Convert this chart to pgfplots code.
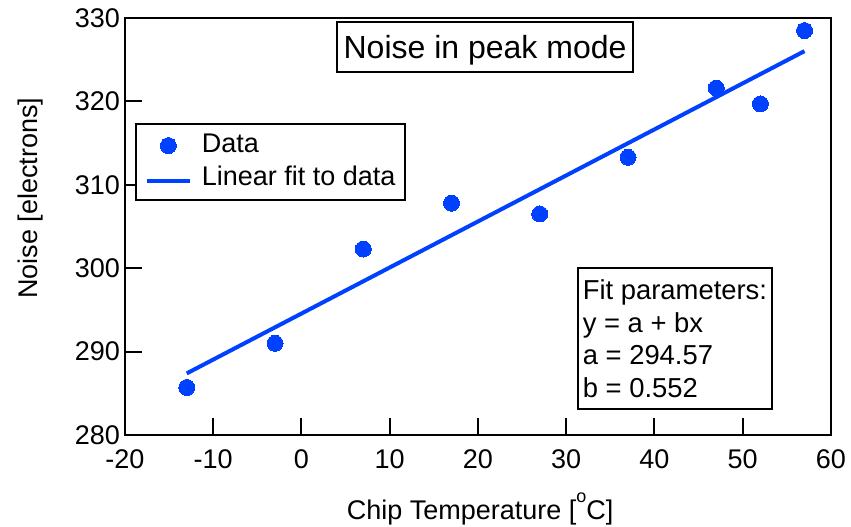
\documentclass[border=0pt]{standalone}
\usepackage{fontspec}
\setmainfont{Liberation Sans}
\usepackage{pgfplots}
\pgfplotsset{compat=1.18}
\definecolor{fitblue}{RGB}{0,64,255}
\pgfplotsset{
    dotleg/.style={legend image code/.code={
        \path[draw=none, fill=none] (0pt,-4pt) rectangle (21.5pt,4pt);
        \draw[##1] plot coordinates {(10.75pt,0pt)};}},
    lineleg/.style={legend image code/.code={
        \draw[##1] (0pt,-1pt) -- (21.5pt,-1pt);}},
}

\begin{document}
\begin{tikzpicture}
\path[use as bounding box] (-62.5pt,-45.5pt) rectangle (363pt,217.5pt);
\begin{axis}[
    at={(0pt,0pt)}, anchor=south west,
    scale only axis,
    width=353pt, height=208.5pt,
    xmin=-20, xmax=60, ymin=280, ymax=330,
    xtick={-20,-10,...,60},
    ytick={280,290,...,330},
    tick pos=left, tick align=inside,
    major tick length=8.5pt,
    axis line style={line width=1pt},
    every tick/.style={black, line width=1pt},
    /pgf/number format/assume math mode=true,
    ticklabel style={font=\fontsize{13.5}{16}\selectfont},
    xticklabel style={yshift=-4pt},
    yticklabel style={xshift=1pt},
    label style={font=\fontsize{13.5}{16}\selectfont},
    xlabel={Chip Temperature [\raisebox{1.2ex}{\fontsize{9}{9}\selectfont o}C]},
    xlabel style={at={(axis description cs:0.503,-0.2038)}, anchor=base},
    ylabel={Noise [electrons]},
    ylabel style={at={(axis description cs:-0.1246,0.568)}, anchor=base},
    legend style={
        at={(rel axis cs:0.014,0.748)}, anchor=north west,
        draw=black, line width=1pt,
        font=\fontsize{13.5}{16}\selectfont,
        inner xsep=4.5pt, inner ysep=4.25pt,
        row sep=3.5pt,
        /tikz/every odd column/.append style={column sep=5pt},
        /tikz/every even column/.append style={nodes={inner sep=0pt, text height=10pt, text depth=3pt}},
    },
    legend cell align=left,
]
% measured points
\addplot[only marks, mark=*, mark size=4pt,
    mark options={fill=fitblue, draw=fitblue, line width=0pt}, dotleg]
coordinates {
    (-13,285.7) (-3,291.0) (7,302.3) (17,307.8) (27,306.5)
    (37,313.3) (47,321.6) (52,319.7) (57,328.5)
};
\addlegendentry{Data}
% y = 294.57 + 0.552 x
\addplot[fitblue, line width=2pt, no marks, lineleg]
coordinates {(-13,287.39) (57,326.03)};
\addlegendentry{Linear fit to data}

\node[draw=black, line width=0.75pt, fill=white, inner sep=0pt,
    minimum width=148pt, minimum height=25pt,
    text height=11.5pt, text depth=0pt,
    font=\fontsize{16}{19}\selectfont]
    at (rel axis cs:0.51,0.930) {Noise in peak mode};
\node[draw=black, line width=1pt, anchor=north west, align=left,
    inner xsep=2.5pt, inner ysep=6pt,
    font=\fontsize{13.7}{16.2}\selectfont]
    at (rel axis cs:0.640,0.403)
    {Fit parameters:\\y = a + bx\\a = 294.57\\b = 0.552};
\end{axis}
\end{tikzpicture}
\end{document}
